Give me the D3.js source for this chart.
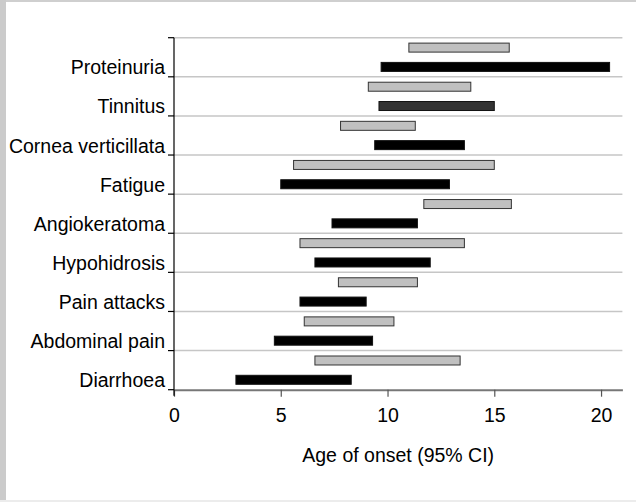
<!DOCTYPE html>
<html>
<head>
<meta charset="utf-8">
<script src="https://cdn.jsdelivr.net/npm/d3@7"></script>
<style>
  html, body { margin: 0; padding: 0; background: #fff; }
  svg { display: block; }
  text { font-family: "Liberation Sans", Arial, sans-serif; fill: #000; }
</style>
</head>
<body>
<svg id="chart" width="636" height="502"></svg>
<script>
// Symptoms, listed top to bottom
const symptoms = [
  "Proteinuria", "Tinnitus", "Cornea verticillata", "Fatigue", "Angiokeratoma",
  "Hypohidrosis", "Pain attacks", "Abdominal pain", "Diarrhoea"
];

// Group A (upper, grey bars): 95% CI of age of onset
const groupALow  = [11.0, 9.1, 7.8, 5.6, 11.7, 5.9, 7.7, 6.1, 6.6];
const groupAHigh = [15.7, 13.9, 11.3, 15.0, 15.8, 13.6, 11.4, 10.3, 13.4];

// Group B (lower, black bars): 95% CI of age of onset
const groupBLow  = [9.7, 9.6, 9.4, 5.0, 7.4, 6.6, 5.9, 4.7, 2.9];
const groupBHigh = [20.4, 15.0, 13.6, 12.9, 11.4, 12.0, 9.0, 9.3, 8.3];

const xTicks = [0, 5, 10, 15, 20];
const xTitle = "Age of onset (95% CI)";

const svg = d3.select("#chart");
const W = 636, H = 502;

// Frame stripes
svg.append("rect").attr("x", 0).attr("y", 0).attr("width", W).attr("height", H).attr("fill", "#fff");
svg.append("rect").attr("x", 0).attr("y", 0).attr("width", W).attr("height", 2).attr("fill", "#cfcfcf");
svg.append("rect").attr("x", 0).attr("y", 0).attr("width", 6).attr("height", H).attr("fill", "#cbcbcb");
svg.append("rect").attr("x", 0).attr("y", 500).attr("width", W).attr("height", 2).attr("fill", "#ececec");

const x = d3.scaleLinear().domain([0, 21]).range([174, 622.4]);
const y = d3.scaleBand().domain(symptoms).range([37.7, 389.7]).padding(0);
const sub = d3.scaleBand().domain(["A", "B"]).range([0, y.step()])
  .paddingInner(0.534).paddingOuter(0.28);

const boundaries = symptoms.map(s => y(s)).concat([y.range()[1]]);

// Horizontal gridlines at category boundaries
svg.append("g").selectAll("line").data(boundaries.slice(0, -1)).join("line")
  .attr("x1", x(0)).attr("x2", x.range()[1])
  .attr("y1", d => d).attr("y2", d => d)
  .attr("stroke", "#c6c6c6").attr("stroke-width", 1.5);

// Bars
const rows = symptoms.map((s, i) => ({
  s,
  a: [groupALow[i], groupAHigh[i]],
  b: [groupBLow[i], groupBHigh[i]]
}));

const bars = svg.append("g");
bars.selectAll("rect.a").data(rows).join("rect").attr("class", "a")
  .attr("x", d => x(d.a[0]))
  .attr("width", d => x(d.a[1]) - x(d.a[0]))
  .attr("y", d => y(d.s) + sub("A"))
  .attr("height", sub.bandwidth())
  .attr("fill", "#c0c0c0").attr("stroke", "#333").attr("stroke-width", 1);

bars.selectAll("rect.b").data(rows).join("rect").attr("class", "b")
  .attr("x", d => x(d.b[0]))
  .attr("width", d => x(d.b[1]) - x(d.b[0]))
  .attr("y", d => y(d.s) + sub("B"))
  .attr("height", sub.bandwidth())
  .attr("fill", d => d.s === "Tinnitus" ? "#333" : "#000")
  .attr("stroke", "#111").attr("stroke-width", 1);

// X axis
const xAxis = svg.append("g")
  .attr("transform", `translate(0,${y.range()[1]})`)
  .call(d3.axisBottom(x).tickValues(xTicks).tickSize(7).tickSizeOuter(0).tickPadding(11.6));
xAxis.select(".domain").attr("stroke", "#777").attr("stroke-width", 2);
xAxis.selectAll(".tick line").attr("stroke", "#555").attr("stroke-width", 1.2);
xAxis.selectAll(".tick text")
  .style("font-family", '"Liberation Sans", Arial, sans-serif')
  .style("font-size", "19.5px").attr("fill", "#000");

// Y axis: vertical line with ticks at category boundaries
const yAxis = svg.append("g");
yAxis.append("line")
  .attr("x1", x(0)).attr("x2", x(0))
  .attr("y1", y.range()[0]).attr("y2", y.range()[1] + 6)
  .attr("stroke", "#000").attr("stroke-width", 1.2);
yAxis.selectAll("line.tk").data(boundaries).join("line").attr("class", "tk")
  .attr("x1", x(0) - 6).attr("x2", x(0))
  .attr("y1", d => d).attr("y2", d => d)
  .attr("stroke", "#000").attr("stroke-width", 1.2);
yAxis.selectAll("text").data(symptoms).join("text")
  .attr("x", 165)
  .attr("y", d => y(d) + y.step() - 2.5)
  .attr("text-anchor", "end")
  .style("font-size", "19.5px")
  .text(d => d);

// X axis title
svg.append("text")
  .attr("x", (x.range()[0] + x.range()[1]) / 2)
  .attr("y", 461.5)
  .attr("text-anchor", "middle")
  .style("font-size", "19.5px")
  .text(xTitle);
</script>
</body>
</html>
